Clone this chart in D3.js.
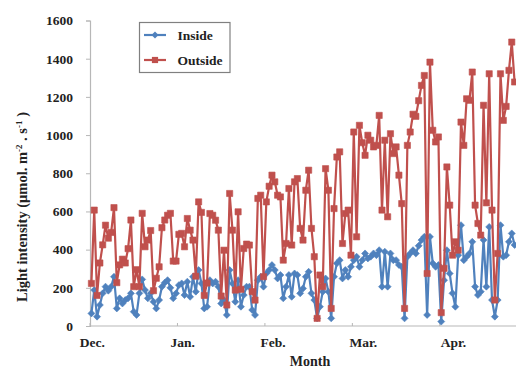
<!DOCTYPE html>
<html><head><meta charset="utf-8">
<script src="https://cdn.jsdelivr.net/npm/d3@7"></script>
<style>html,body{margin:0;padding:0;background:#fff;} svg{display:block;}</style>
</head><body>
<svg id="chart" width="516" height="367"></svg>
<script>
// Daily light intensity (µmol m-2 s-1), Dec → Apr
const insideLight = [
  66,188,49,110,171,206,185,206,258,92,145,118,136,145,171,75,58,171,244,188,145,171,127,92,136,206,227,240,200,145,171,214,
  223,162,232,153,258,180,293,223,92,101,240,223,232,206,118,136,58,293,223,127,240,101,162,206,206,84,58,240,258,
  206,275,293,319,293,249,267,145,206,267,153,275,267,171,197,258,284,171,136,40,101,180,249,180,40,258,328,345,249,293,258,310,345,
  363,310,345,380,354,363,380,371,397,206,389,206,380,345,345,320,310,40,363,380,397,380,420,450,467,58,467,328,310,319,
  23,240,397,275,171,101,371,528,345,363,380,441,206,162,180,450,206,519,136,49,136,528,363,371,441,485,424
];
const outsideLight = [
  223,607,160,330,425,528,460,490,620,227,320,350,330,405,555,206,295,206,590,415,450,500,185,250,310,515,555,580,590,340,340,480,
  485,415,563,502,450,261,650,595,160,225,589,580,554,502,157,397,110,694,502,188,598,192,406,429,424,180,136,668,685,
  258,650,732,790,755,685,676,345,432,720,424,755,772,511,450,711,816,511,363,40,267,206,824,711,92,615,885,912,432,589,607,371,1016,
  467,1051,960,894,999,973,938,946,1103,607,973,572,1007,903,938,790,641,92,946,1016,1109,1098,1180,1260,1312,275,1382,1025,964,990,
  70,302,833,633,371,441,397,1068,946,1190,1182,1330,633,537,476,1156,645,1321,607,136,380,1321,1077,1150,1339,1487,1278
];
const monthLabels = ["Dec.","Jan.","Feb.","Mar.","Apr."];
const monthTickIndex = [0,31,62,93,124];
const monthLabelIndex = [0,32,64,96,128];
const yTicks = [0,200,400,600,800,1000,1200,1400,1600];
const seriesNames = ["Inside","Outside"];
const seriesColors = ["#4F81BD","#C0504D"];

const svg = d3.select("#chart");
const font = "'Liberation Serif','Times New Roman',serif";
const days = d3.range(insideLight.length);

const x = d3.scaleBand().domain(days).range([90, 516]).paddingInner(0).paddingOuter(0);
const y = d3.scaleLinear().domain([0, 1600]).range([326, 20.5]);
const cx = i => x(i) + x.bandwidth() / 2;

// axes
const axisColor = "#b7b7b7";
const yAxis = svg.append("g").attr("transform", "translate(90,0)")
  .call(d3.axisLeft(y).tickValues(yTicks).tickSize(4).tickPadding(13).tickFormat(d3.format("d")));
yAxis.select(".domain").attr("stroke", axisColor).attr("stroke-width", 1.2);
yAxis.selectAll(".tick line").attr("stroke", axisColor);
yAxis.selectAll(".tick text").attr("font-family", font).attr("font-weight", "bold")
  .attr("font-size", "13.5px").attr("fill", "#222");

const xAxis = svg.append("g").attr("transform", "translate(0,326)");
xAxis.append("line").attr("x1", 90).attr("x2", 516).attr("y1", 0).attr("y2", 0)
  .attr("stroke", axisColor).attr("stroke-width", 1.2);
xAxis.selectAll(".xtick").data(monthTickIndex).enter().append("line")
  .attr("x1", d => x(d)).attr("x2", d => x(d)).attr("y1", 0).attr("y2", -3)
  .attr("stroke", axisColor);
xAxis.selectAll(".xlabel").data(monthLabels).enter().append("text")
  .attr("x", (d, i) => cx(monthLabelIndex[i]) + 1)
  .attr("y", 21).attr("text-anchor", "middle")
  .attr("font-family", font).attr("font-weight", "bold").attr("font-size", "13.5px").attr("fill", "#222")
  .text(d => d);

// axis titles
svg.append("text").attr("x", 310).attr("y", 365.5).attr("text-anchor", "middle")
  .attr("font-family", font).attr("font-weight", "bold").attr("font-size", "14px").attr("fill", "#222")
  .text("Month");
const yt = svg.append("text").attr("transform", "translate(27,207) rotate(-90)")
  .attr("text-anchor", "middle").attr("font-family", font).attr("font-weight", "bold")
  .attr("font-size", "14.5px").attr("fill", "#222");
yt.append("tspan").text("Light intensity (\u03BCmol. m");
yt.append("tspan").attr("font-size", "9px").attr("dy", -5).text("-2");
yt.append("tspan").attr("dy", 5).text(" . s");
yt.append("tspan").attr("font-size", "9px").attr("dy", -5).text("-1");
yt.append("tspan").attr("dy", 5).text(" )");

// series
const line = d3.line().x((d, i) => cx(i)).y(d => y(d));
const diamond = (px, py, r) => `M${px},${py - r}L${px + r},${py}L${px},${py + r}L${px - r},${py}Z`;
const square = (px, py, r) => `M${px - r},${py - r}h${2 * r}v${2 * r}h${-2 * r}Z`;

const series = [insideLight, outsideLight];
series.forEach((vals, s) => {
  const g = svg.append("g");
  g.append("path").datum(vals).attr("d", line).attr("fill", "none")
    .attr("stroke", seriesColors[s]).attr("stroke-width", 2.2).attr("stroke-linejoin", "round");
  g.selectAll("path.m").data(vals).enter().append("path").attr("class", "m")
    .attr("d", (d, i) => s === 0 ? diamond(cx(i), y(d), 3.5) : square(cx(i), y(d), 3.1))
    .attr("fill", seriesColors[s]).attr("stroke", seriesColors[s]).attr("stroke-width", 0.6);
});

// legend
const lg = svg.append("g");
lg.append("rect").attr("x", 139.5).attr("y", 22.5).attr("width", 90.5).attr("height", 50)
  .attr("fill", "#fff").attr("stroke", "#808080").attr("stroke-width", 1.2);
seriesNames.forEach((name, s) => {
  const ly = 35 + s * 25;
  lg.append("line").attr("x1", 144).attr("x2", 166).attr("y1", ly).attr("y2", ly)
    .attr("stroke", seriesColors[s]).attr("stroke-width", 2.2);
  lg.append("path").attr("d", s === 0 ? diamond(155, ly, 3.5) : square(155, ly, 3.1))
    .attr("fill", seriesColors[s]);
  lg.append("text").attr("x", 177.5).attr("y", ly + 4.5)
    .attr("font-family", font).attr("font-weight", "bold").attr("font-size", "13.5px").attr("fill", "#222")
    .text(name);
});
</script>
</body></html>
